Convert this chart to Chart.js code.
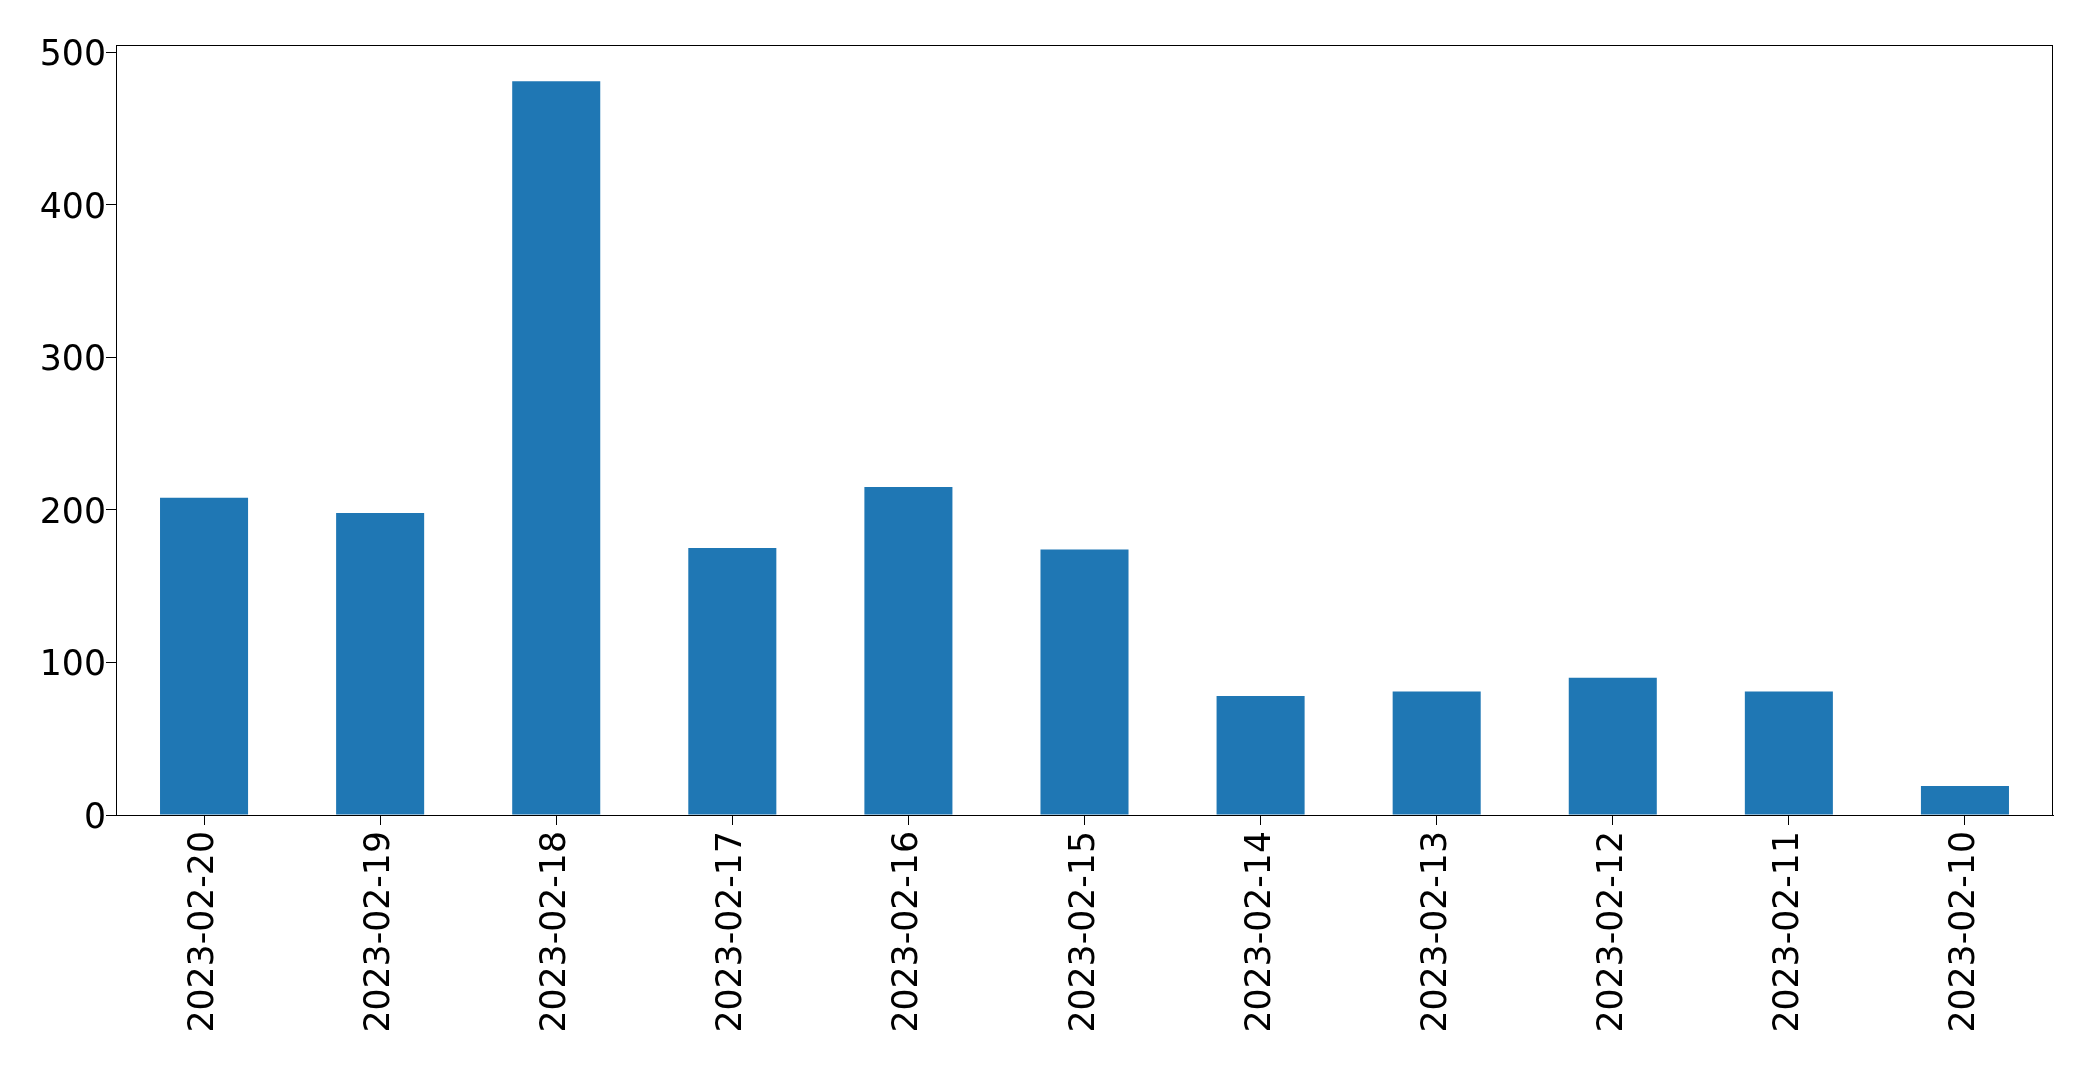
<!DOCTYPE html>
<html lang="en">
<head>
<meta charset="UTF-8">
<script src="https://cdn.jsdelivr.net/npm/chart.js"></script>
<title>Bar chart</title>
<style>
  body { margin: 0; background: #fff; }
</style>
</head>
<body>
<canvas id="barChart" width="2093" height="1067"></canvas>
<script>
// dates, newest first (as in the picture)
const dates = ['2023-02-20', '2023-02-19', '2023-02-18', '2023-02-17', '2023-02-16',
               '2023-02-15', '2023-02-14', '2023-02-13', '2023-02-12', '2023-02-11', '2023-02-10'];
const counts = [208, 198, 481, 175, 215, 174, 78, 81, 90, 81, 19];
const yTicks = [0, 100, 200, 300, 400, 500];

// draw the box round the plot area
const frame = {
    id: 'frame',
    afterDatasetsDraw(chart) {
        const a = chart.chartArea;
        const ctx = chart.ctx;
        ctx.save();
        ctx.strokeStyle = '#000';
        ctx.lineWidth = 1;
        ctx.strokeRect(a.left + 0.5, a.top + 0.5, a.right - a.left - 1, a.bottom - a.top);
        ctx.restore();
    }
};

const font = { family: 'DejaVu Sans', size: 34.7 };

new Chart(document.getElementById('barChart'), {
    type: 'bar',
    data: {
        labels: dates,
        datasets: [{
            data: counts,
            backgroundColor: '#1f77b4',
            barPercentage: 0.5,
            categoryPercentage: 1.0
        }]
    },
    options: {
        responsive: false,
        animation: false,
        layout: { padding: { top: 45, right: 40, left: 0, bottom: 0 } },
        plugins: { legend: { display: false }, tooltip: { enabled: false } },
        scales: {
            x: {
                offset: true,
                grid: { offset: false, drawOnChartArea: false, drawTicks: true, tickLength: 10, color: '#000' },
                border: { color: '#000', width: 1 },
                ticks: { color: '#000', font: font, minRotation: 90, maxRotation: 90, padding: 6, autoSkip: false },
                afterFit(scale) { scale.height = 252; }
            },
            y: {
                min: 0,
                max: 504.8,
                grid: { drawOnChartArea: false, drawTicks: true, tickLength: 10, color: '#000' },
                border: { color: '#000', width: 1 },
                ticks: { color: '#000', font: font, padding: 0, labelOffset: 4 },
                afterBuildTicks(scale) { scale.ticks = yTicks.map(v => ({ value: v })); },
                afterFit(scale) { scale.width = 116; }
            }
        }
    },
    plugins: [frame]
});
</script>
</body>
</html>
